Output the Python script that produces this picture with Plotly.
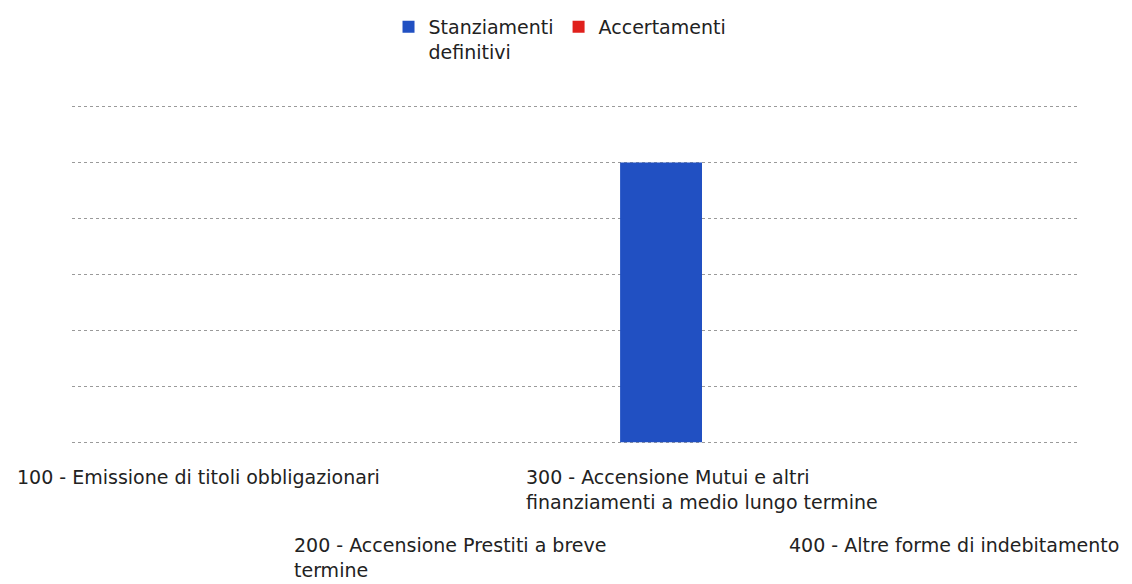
import plotly.graph_objects as go

categories = ["100", "200", "300", "400"]
labels = [
    "100 - Emissione di titoli obbligazionari",
    "200 - Accensione Prestiti a breve<br>termine",
    "300 - Accensione Mutui e altri<br>finanziamenti a medio lungo termine",
    "400 - Altre forme di indebitamento",
]
stanziamenti = [0, 0, 5, 0]
accertamenti = [0, 0, 0, 0]

FONT = "DejaVu Sans"
SIZE = 19
fig = go.Figure()
fig.add_trace(go.Bar(x=categories, y=stanziamenti, name="Stanziamenti<br>definitivi",
                     marker_color="#2150c2", marker_line_width=0))
fig.add_trace(go.Bar(x=categories, y=accertamenti, name="Accertamenti",
                     marker_color="#e0201c", marker_line_width=0))

# staggered category labels, block centred on the category, lines left-aligned
# (x given as category index so "100" is not read as a number)
for i, lab in enumerate(labels):
    fig.add_annotation(x=i, y=0, xref="x", yref="paper", text=lab, showarrow=False,
                       xanchor="center", yanchor="top", align="left",
                       yshift=-20 if i % 2 == 0 else -88,
                       font=dict(family=FONT, size=SIZE, color="#222"))

# page body adds an 8px margin, so the figure is shrunk by that much
fig.update_layout(
    width=1124, height=576,
    margin=dict(l=64, r=52, t=97, b=140),
    paper_bgcolor="white", plot_bgcolor="white",
    barmode="group", bargap=0.35, bargroupgap=0,
    font=dict(family=FONT, size=SIZE, color="#222"),
    legend=dict(orientation="h", x=0.314, xanchor="left", y=1.0, yanchor="top",
                yref="container", valign="top", itemwidth=30,
                font=dict(family=FONT, size=SIZE, color="#222")),
    xaxis=dict(type="category", range=[-0.5, 3.5], showticklabels=False,
               showgrid=False, zeroline=False, showline=False),
    yaxis=dict(range=[-0.03, 6.03], tickvals=[0, 1, 2, 3, 4, 5, 6],
               showticklabels=False, showgrid=True,
               gridcolor="#9a9a9a", griddash="dot", gridwidth=1, zeroline=False),
)
fig.write_html("out.html")
